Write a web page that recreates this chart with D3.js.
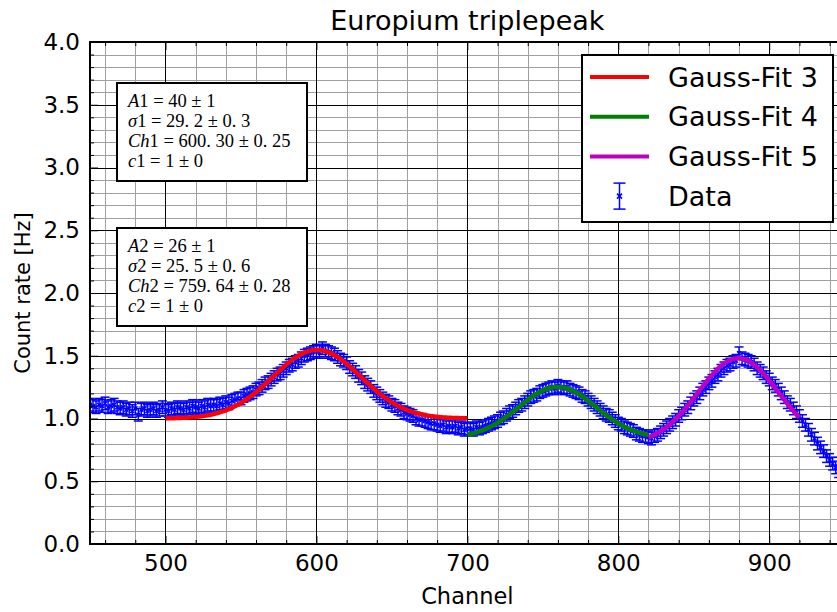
<!DOCTYPE html>
<html>
<head>
<meta charset="utf-8">
<script src="https://cdn.jsdelivr.net/npm/d3@7"></script>
<style>
  body { margin: 0; background: #fff; }
  svg { display: block; }
</style>
</head>
<body>
<svg id="chart" width="837" height="612"></svg>
<script>
// Measured count rate per channel (every second channel from 450)
const channelStart = 450;
const channelStep = 2;
const countRate = [
  1.11, 1.10, 1.09, 1.11, 1.10, 1.12, 1.09, 1.10, 1.11, 1.09,
  1.08, 1.09, 1.07, 1.08, 1.06, 1.08, 1.03, 1.07, 1.08, 1.06,
  1.07, 1.08, 1.06, 1.07, 1.09, 1.07, 1.06, 1.08, 1.07, 1.09,
  1.08, 1.07, 1.09, 1.08, 1.10, 1.09, 1.08, 1.10, 1.09, 1.11,
  1.10, 1.11, 1.10, 1.12, 1.11, 1.13, 1.12, 1.14, 1.15, 1.16,
  1.16, 1.18, 1.19, 1.20, 1.21, 1.23, 1.24, 1.26, 1.28, 1.29,
  1.31, 1.33, 1.35, 1.36, 1.38, 1.40, 1.42, 1.43, 1.45, 1.46,
  1.48, 1.50, 1.51, 1.52, 1.53, 1.54, 1.53, 1.56, 1.54, 1.53,
  1.52, 1.51, 1.49, 1.47, 1.46, 1.44, 1.41, 1.39, 1.37, 1.34,
  1.32, 1.29, 1.27, 1.25, 1.22, 1.20, 1.18, 1.16, 1.14, 1.13,
  1.11, 1.10, 1.08, 1.07, 1.05, 1.04, 1.03, 1.02, 1.00, 0.99,
  0.99, 0.98, 0.97, 0.96, 0.96, 0.95, 0.94, 0.95, 0.93, 0.94,
  0.93, 0.94, 0.92, 0.93, 0.91, 0.92, 0.92, 0.91, 0.93, 0.92,
  0.93, 0.94, 0.95, 0.96, 0.97, 0.98, 1.00, 1.01, 1.03, 1.05,
  1.06, 1.08, 1.10, 1.11, 1.13, 1.15, 1.17, 1.18, 1.19, 1.21,
  1.22, 1.23, 1.24, 1.25, 1.24, 1.26, 1.25, 1.24, 1.25, 1.23,
  1.22, 1.21, 1.20, 1.18, 1.17, 1.15, 1.13, 1.11, 1.09, 1.07,
  1.05, 1.03, 1.02, 1.00, 0.98, 0.96, 0.95, 0.93, 0.92, 0.91,
  0.90, 0.88, 0.87, 0.86, 0.86, 0.85, 0.84, 0.86, 0.87, 0.89,
  0.91, 0.93, 0.95, 0.97, 0.99, 1.02, 1.04, 1.07, 1.09, 1.12,
  1.15, 1.17, 1.20, 1.23, 1.25, 1.28, 1.30, 1.33, 1.35, 1.38,
  1.40, 1.42, 1.43, 1.45, 1.46, 1.52, 1.48, 1.47, 1.46, 1.45,
  1.43, 1.40, 1.38, 1.36, 1.33, 1.31, 1.28, 1.26, 1.23, 1.20,
  1.17, 1.13, 1.11, 1.08, 1.05, 1.02, 0.98, 0.95, 0.91, 0.87,
  0.84, 0.80, 0.77, 0.74, 0.70, 0.67, 0.64, 0.61, 0.58, 0.55
];
const rateError = 0.05;

// Gaussian fit parameters: A (area), sigma, centre channel, offset, fit range
const fit3 = { A: 40, sigma: 29.2, ch: 600.30, c: 1, from: 500, to: 700 };
const fit4 = { A: 26, sigma: 25.5, ch: 759.64, c: 0.845, from: 700, to: 820 };
const fit5 = { A: 45.5, sigma: 26.5, ch: 879.5, c: 0.795, from: 820, to: 920 };

// Parameter boxes: [symbol, value, uncertainty]
const paramBox1 = [["A1", "40", "1"], ["σ1", "29.2", "0.3"], ["Ch1", "600.30", "0.25"], ["c1", "1", "0"]];
const paramBox2 = [["A2", "26", "1"], ["σ2", "25.5", "0.6"], ["Ch2", "759.64", "0.28"], ["c2", "1", "0"]];

const legendLabels = ["Gauss-Fit 3", "Gauss-Fit 4", "Gauss-Fit 5", "Data"];
const fitColors = ["#ff0000", "#008000", "#bf00bf"];

const xMajor = [500, 600, 700, 800, 900];
const yMajor = [0, 0.5, 1, 1.5, 2, 2.5, 3, 3.5, 4];

const W = 837, H = 612;
const m = { left: 90, top: 42, right: 844.7, bottom: 544 };

const svg = d3.select("#chart");
const x = d3.scaleLinear().domain([450, 950]).range([m.left, m.right]);
const y = d3.scaleLinear().domain([0, 4]).range([m.bottom, m.top]);

const xMinor = d3.range(460, 951, 20).filter(v => v % 100 !== 0);
const yMinor = d3.range(0, 41).map(i => i / 10).filter(v => Math.round(v * 10) % 5 !== 0);

svg.append("rect").attr("width", W).attr("height", H).attr("fill", "#fff");

svg.append("defs").append("clipPath").attr("id", "plot-clip")
  .append("rect").attr("x", m.left).attr("y", m.top)
  .attr("width", m.right - m.left).attr("height", m.bottom - m.top);

const plot = svg.append("g").attr("clip-path", "url(#plot-clip)");

// Grid: minor grey, major black
const grid = plot.append("g");
grid.selectAll(".gxm").data(xMinor).join("line")
  .attr("x1", d => Math.round(x(d)) + 0.5).attr("x2", d => Math.round(x(d)) + 0.5)
  .attr("y1", m.top).attr("y2", m.bottom)
  .attr("stroke", "#a0a0a0").attr("stroke-width", 1);
grid.selectAll(".gym").data(yMinor).join("line")
  .attr("y1", d => Math.round(y(d)) + 0.5).attr("y2", d => Math.round(y(d)) + 0.5)
  .attr("x1", m.left).attr("x2", m.right)
  .attr("stroke", "#a0a0a0").attr("stroke-width", 1);
grid.selectAll(".gxM").data(xMajor).join("line")
  .attr("x1", d => Math.round(x(d)) + 0.5).attr("x2", d => Math.round(x(d)) + 0.5)
  .attr("y1", m.top).attr("y2", m.bottom)
  .attr("stroke", "#000").attr("stroke-width", 1);
grid.selectAll(".gyM").data(yMajor).join("line")
  .attr("y1", d => Math.round(y(d)) + 0.5).attr("y2", d => Math.round(y(d)) + 0.5)
  .attr("x1", m.left).attr("x2", m.right)
  .attr("stroke", "#000").attr("stroke-width", 1);

// Data points with error bars
const points = countRate.map((v, i) => ({ ch: channelStart + i * channelStep, v }));
const cap = 4.5;
const dataG = plot.append("g").attr("stroke", "#0000ff").attr("stroke-width", 1.5).attr("fill", "none");
points.forEach(p => {
  const px = x(p.ch), lo = y(p.v - rateError), hi = y(p.v + rateError), py = y(p.v);
  dataG.append("line").attr("x1", px).attr("x2", px).attr("y1", lo).attr("y2", hi);
  dataG.append("line").attr("x1", px - cap).attr("x2", px + cap).attr("y1", lo).attr("y2", lo);
  dataG.append("line").attr("x1", px - cap).attr("x2", px + cap).attr("y1", hi).attr("y2", hi);
  dataG.append("path").attr("d", `M${px - 2},${py - 2}L${px + 2},${py + 2}M${px - 2},${py + 2}L${px + 2},${py - 2}`);
});

// Fit curves
const gauss = f => ch => f.c + f.A / (f.sigma * Math.sqrt(2 * Math.PI)) *
  Math.exp(-((ch - f.ch) ** 2) / (2 * f.sigma * f.sigma));
const line = d3.line().x(d => x(d[0])).y(d => y(d[1]));
[fit3, fit4, fit5].forEach((f, i) => {
  const g = gauss(f);
  const pts = d3.range(f.from, f.to + 0.001, 1).map(ch => [ch, g(ch)]);
  plot.append("path").attr("d", line(pts)).attr("fill", "none")
    .attr("stroke", fitColors[i]).attr("stroke-width", 4.5);
});

// Axes: ticks point inward on every side
const font = "'DejaVu Sans', sans-serif";
function styleAxis(g) {
  g.select(".domain").remove();
  g.selectAll(".tick line").attr("stroke", "#000").attr("stroke-width", 1);
  g.selectAll("text").attr("font-family", font).attr("font-size", 23).attr("fill", "#000");
}
svg.append("g").attr("transform", `translate(0,${m.bottom})`)
  .call(d3.axisBottom(x).tickValues(xMajor).tickSize(-8).tickPadding(11).tickFormat(d3.format("d")))
  .call(styleAxis);
svg.append("g").attr("transform", `translate(0,${m.bottom})`)
  .call(d3.axisBottom(x).tickValues(xMinor).tickSize(-4).tickFormat(""))
  .call(styleAxis);
svg.append("g").attr("transform", `translate(0,${m.top})`)
  .call(d3.axisTop(x).tickValues(xMajor).tickSize(-8).tickFormat(""))
  .call(styleAxis);
svg.append("g").attr("transform", `translate(0,${m.top})`)
  .call(d3.axisTop(x).tickValues(xMinor).tickSize(-4).tickFormat(""))
  .call(styleAxis);
svg.append("g").attr("transform", `translate(${m.left},0)`)
  .call(d3.axisLeft(y).tickValues(yMajor).tickSize(-8).tickPadding(10).tickFormat(d3.format(".1f")))
  .call(styleAxis);
svg.append("g").attr("transform", `translate(${m.left},0)`)
  .call(d3.axisLeft(y).tickValues(yMinor).tickSize(-4).tickFormat(""))
  .call(styleAxis);

// Frame
svg.append("rect").attr("x", m.left).attr("y", m.top)
  .attr("width", m.right - m.left).attr("height", m.bottom - m.top)
  .attr("fill", "none").attr("stroke", "#000").attr("stroke-width", 2);

// Titles
svg.append("text").attr("x", (m.left + m.right) / 2).attr("y", 30)
  .attr("text-anchor", "middle").attr("font-family", font).attr("font-size", 27)
  .text("Europium triplepeak");
svg.append("text").attr("x", (m.left + m.right) / 2).attr("y", 604)
  .attr("text-anchor", "middle").attr("font-family", font).attr("font-size", 22.5)
  .text("Channel");
svg.append("text").attr("transform", `translate(30,${(m.top + m.bottom) / 2}) rotate(-90)`)
  .attr("text-anchor", "middle").attr("font-family", font).attr("font-size", 21)
  .text("Count rate [Hz]");

// Parameter boxes with math-style text
const mathFont = "'Liberation Serif', 'Times New Roman', serif";
const fmtNum = s => s.replace(".", ". ");
function paramBox(rows, top) {
  const g = svg.append("g");
  g.append("rect").attr("x", 117).attr("y", top).attr("width", 190).attr("height", 98)
    .attr("fill", "#fff").attr("stroke", "#000").attr("stroke-width", 2);
  rows.forEach((r, i) => {
    const t = g.append("text").attr("x", 128).attr("y", top + 24 + i * 20.1)
      .attr("font-family", mathFont).attr("font-size", 18.5).attr("xml:space", "preserve");
    const letters = r[0].match(/^[^\d]+/)[0];
    t.append("tspan").attr("font-style", "italic").text(letters);
    t.append("tspan").text(r[0].slice(letters.length) + " = " + fmtNum(r[1]) + " ± " + fmtNum(r[2]));
  });
}
paramBox(paramBox1, 83);
paramBox(paramBox2, 228);

// Legend
const lg = svg.append("g");
lg.append("rect").attr("x", 582).attr("y", 55).attr("width", 251).attr("height", 167)
  .attr("fill", "#fff").attr("stroke", "#000").attr("stroke-width", 2);
legendLabels.forEach((lab, i) => {
  const cy = 77 + i * 39.7;
  if (i < 3) {
    lg.append("line").attr("x1", 590).attr("x2", 649).attr("y1", cy).attr("y2", cy)
      .attr("stroke", fitColors[i]).attr("stroke-width", 4);
  } else {
    const eg = lg.append("g").attr("stroke", "#0000ff").attr("stroke-width", 1.5).attr("fill", "none");
    eg.append("line").attr("x1", 619.5).attr("x2", 619.5).attr("y1", cy - 13).attr("y2", cy + 13);
    eg.append("line").attr("x1", 613.5).attr("x2", 625.5).attr("y1", cy - 13).attr("y2", cy - 13);
    eg.append("line").attr("x1", 613.5).attr("x2", 625.5).attr("y1", cy + 13).attr("y2", cy + 13);
    eg.append("path").attr("d", `M${617},${cy - 2.5}L${622},${cy + 2.5}M${617},${cy + 2.5}L${622},${cy - 2.5}`);
  }
  lg.append("text").attr("x", 668).attr("y", cy).attr("dy", "0.36em")
    .attr("font-family", font).attr("font-size", 27).text(lab);
});
</script>
</body>
</html>
